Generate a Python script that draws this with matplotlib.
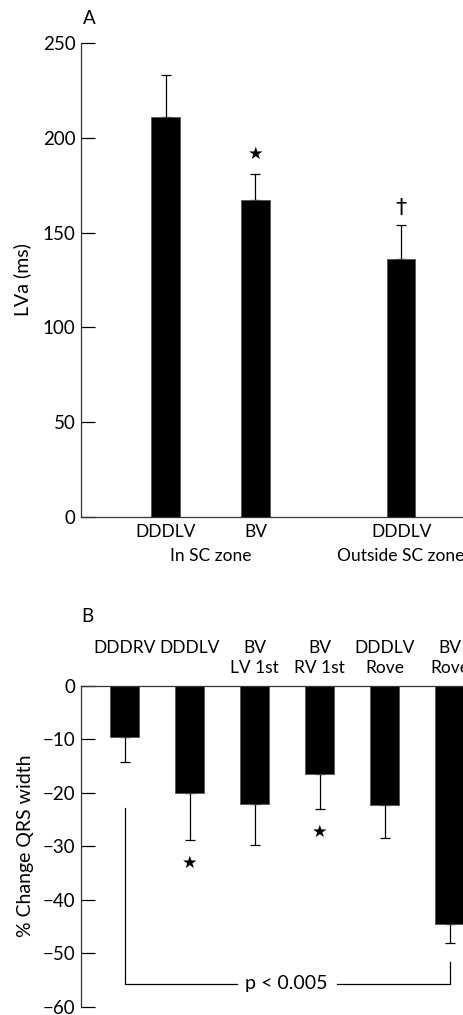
import matplotlib
matplotlib.use("Agg")
import matplotlib.pyplot as plt

plt.rcParams['font.family'] = ['Lato', 'DejaVu Sans']

# Panel A data
A_POS = [0, 1, 2.62]
A_LABELS = ['DDDLV', 'BV', 'DDDLV']
A_VALUES = [211, 167, 136]
A_ERR = [22, 14, 18]
A_MARKS = ['', '★', '†']
A_GROUPS = ['In SC zone', 'Outside SC zone']
A_GROUP_POS = [0.5, 2.62]

# Panel B data
B_LABELS = ['DDDRV\n ', 'DDDLV\n ', 'BV\nLV 1st', 'BV\nRV 1st', 'DDDLV\nRove', 'BV\nRove']
B_VALUES = [-9.6, -20.0, -22.2, -16.5, -22.3, -44.5]
B_ERR = [4.7, 8.9, 7.5, 6.5, 6.2, 3.6]
B_MARKS = ['', '★', '', '★', '', '']
B_MARK_Y = [0, -33.1, 0, -27.3, 0, 0]
P_TEXT = 'p < 0.005'

W, H = 464, 1015
fig = plt.figure(figsize=(W / 100, H / 100), dpi=100)

FS = 12.5      # category labels
FS_TICK = 13.5
FS_LAB = 14
LW = 0.9

# ---- Panel A ----
axA = fig.add_axes([81 / W, (H - 517) / H, (W - 81) / W, 474 / H])
axA.bar(A_POS, A_VALUES, width=0.32, color='black', edgecolor='#555555', linewidth=0.6, zorder=2)
axA.errorbar(A_POS, A_VALUES, yerr=[[0] * 3, A_ERR], fmt='none', ecolor='black',
             elinewidth=LW, capsize=3.3, capthick=LW, zorder=1)
for x, v, e, m in zip(A_POS, A_VALUES, A_ERR, A_MARKS):
    if m == '★':
        axA.text(x, v + e + 6, m, ha='center', va='bottom', fontsize=FS,
                 family=['DejaVu Sans'])
    elif m:
        axA.text(x, v + e + 4, m, ha='center', va='bottom', fontsize=16,
                 family=['DejaVu Sans'])
axA.set_xlim(-0.94, 3.32)
axA.set_ylim(0, 250)
axA.set_yticks([0, 50, 100, 150, 200, 250])
axA.set_xticks(A_POS)
axA.set_xticklabels(A_LABELS)
axA.tick_params(axis='y', direction='in', length=10, width=LW, labelsize=FS_TICK, pad=4)
axA.tick_params(axis='x', length=0, labelsize=FS, pad=5)
for g, gx in zip(A_GROUPS, A_GROUP_POS):
    axA.text(gx, -20.4, g, ha='center', va='center', fontsize=FS, clip_on=False)
for s in ['top', 'right']:
    axA.spines[s].set_visible(False)
for s in ['left', 'bottom']:
    axA.spines[s].set_linewidth(LW)
    axA.spines[s].set_color('#333333')
axA.set_ylabel('LVa (ms)', fontsize=FS_LAB, labelpad=8)
fig.text(89 / W, 1 - 18 / H, 'A', fontsize=FS_TICK, ha='center', va='center')

# ---- Panel B ----
B_POS = list(range(len(B_VALUES)))
axB = fig.add_axes([80.7 / W, 8.3 / H, (W - 80.7) / W, (1006.7 - 685.7) / H])
axB.bar(B_POS, B_VALUES, width=0.45, color='black', edgecolor='#555555', linewidth=0.6, zorder=2)
axB.errorbar(B_POS, B_VALUES, yerr=[B_ERR, [0] * len(B_ERR)], fmt='none', ecolor='black',
             elinewidth=LW, capsize=3.3, capthick=LW, zorder=1)
for x, m, my in zip(B_POS, B_MARKS, B_MARK_Y):
    if m:
        axB.text(x, my, m, ha='center', va='center', fontsize=FS, family=['DejaVu Sans'])
axB.set_xlim(-0.677, 5.22)
axB.set_ylim(-60, 0)
axB.set_yticks([0, -10, -20, -30, -40, -50, -60])
axB.xaxis.tick_top()
axB.set_xticks(B_POS)
axB.set_xticklabels(B_LABELS, linespacing=1.3)
axB.tick_params(axis='y', direction='in', length=10, width=LW, labelsize=FS_TICK, pad=4)
axB.tick_params(axis='x', length=0, labelsize=FS, pad=7)
for s in ['bottom', 'right']:
    axB.spines[s].set_visible(False)
for s in ['left', 'top']:
    axB.spines[s].set_linewidth(LW)
    axB.spines[s].set_color('#333333')
axB.set_ylabel('% Change QRS width', fontsize=FS_LAB, labelpad=6)

# significance bracket
y_br = -55.7
axB.plot([0, 0, 1.72], [-22.8, y_br, y_br], color='black', lw=LW)
axB.plot([3.27, 5.0, 5.0], [y_br, y_br, -51.7], color='black', lw=LW)
axB.text(2.49, y_br, P_TEXT, ha='center', va='center', fontsize=FS_LAB)
fig.text(87.7 / W, 1 - 616 / H, 'B', fontsize=FS_TICK, ha='center', va='center')

fig.savefig('out.png', dpi=100)
